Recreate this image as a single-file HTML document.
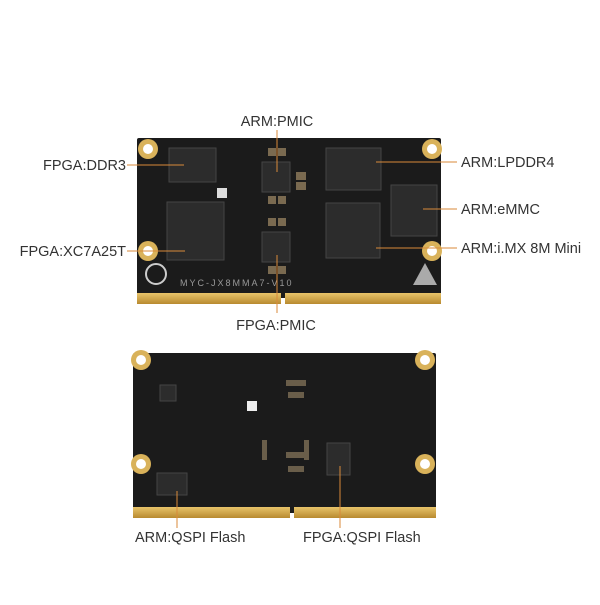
<!DOCTYPE html>
<html><head><style>
body{margin:0;background:#fff;}
svg text{font-family:"Liberation Sans",sans-serif;font-size:14.5px;fill:#333;}
</style></head><body>
<svg width="600" height="600" xmlns="http://www.w3.org/2000/svg">
<defs>
<linearGradient id="g" x1="0" y1="0" x2="0" y2="1"><stop offset="0" stop-color="#e8c46a"/><stop offset="1" stop-color="#b88a30"/></linearGradient>
</defs>
<rect x="137" y="138" width="304" height="160" fill="#1b1b1b" rx="2"/>
<rect x="137" y="293" width="144" height="11" fill="url(#g)"/>
<rect x="285" y="293" width="156" height="11" fill="url(#g)"/>
<g fill="#d9b25a"><circle cx="148" cy="149" r="10"/><circle cx="432" cy="149" r="10"/><circle cx="148" cy="251" r="10"/><circle cx="432" cy="251" r="10"/></g>
<g fill="#fff"><circle cx="148" cy="149" r="5"/><circle cx="432" cy="149" r="5"/><circle cx="148" cy="251" r="5"/><circle cx="432" cy="251" r="5"/></g>
<g fill="#2c2c2c" stroke="#444">
<rect x="169" y="148" width="47" height="34"/>
<rect x="167" y="202" width="57" height="58"/>
<rect x="262" y="162" width="28" height="30"/>
<rect x="262" y="232" width="28" height="30"/>
<rect x="326" y="148" width="55" height="42"/>
<rect x="326" y="203" width="54" height="55"/>
<rect x="391" y="185" width="46" height="51"/>
</g>
<g fill="#7a6a50"><rect x="268" y="148" width="8" height="8"/><rect x="278" y="148" width="8" height="8"/><rect x="268" y="196" width="8" height="8"/><rect x="278" y="196" width="8" height="8"/><rect x="268" y="218" width="8" height="8"/><rect x="278" y="218" width="8" height="8"/><rect x="268" y="266" width="8" height="8"/><rect x="278" y="266" width="8" height="8"/><rect x="296" y="172" width="10" height="8"/><rect x="296" y="182" width="10" height="8"/></g>
<rect x="217" y="188" width="10" height="10" fill="#ddd"/>
<circle cx="156" cy="274" r="10" fill="none" stroke="#ccc" stroke-width="2"/>
<text x="180" y="286" style="font-size:9px;fill:#999;letter-spacing:2px">MYC-JX8MMA7-V10</text>
<polygon points="413,285 425,263 437,285" fill="#aaa"/>
<rect x="133" y="353" width="303" height="160" fill="#1b1b1b" rx="2"/>
<rect x="133" y="507" width="157" height="11" fill="url(#g)"/>
<rect x="294" y="507" width="142" height="11" fill="url(#g)"/>
<g fill="#d9b25a"><circle cx="141" cy="360" r="10"/><circle cx="425" cy="360" r="10"/><circle cx="141" cy="464" r="10"/><circle cx="425" cy="464" r="10"/></g>
<g fill="#fff"><circle cx="141" cy="360" r="5"/><circle cx="425" cy="360" r="5"/><circle cx="141" cy="464" r="5"/><circle cx="425" cy="464" r="5"/></g>
<rect x="247" y="401" width="10" height="10" fill="#eee"/>
<g fill="#2c2c2c" stroke="#444"><rect x="157" y="473" width="30" height="22"/><rect x="327" y="443" width="23" height="32"/><rect x="160" y="385" width="16" height="16"/></g>
<g fill="#6a5e4a"><rect x="286" y="380" width="20" height="6"/><rect x="288" y="392" width="16" height="6"/><rect x="286" y="452" width="20" height="6"/><rect x="288" y="466" width="16" height="6"/><rect x="262" y="440" width="5" height="20"/><rect x="304" y="440" width="5" height="20"/></g>
<g stroke="#d98a3a" stroke-width="1" fill="none">
<line x1="277" y1="130" x2="277" y2="172"/>
<line x1="277" y1="255" x2="277" y2="313"/>
<line x1="127" y1="165" x2="184" y2="165"/>
<line x1="127" y1="251" x2="185" y2="251"/>
<line x1="376" y1="162" x2="457" y2="162"/>
<line x1="423" y1="209" x2="457" y2="209"/>
<line x1="376" y1="248" x2="457" y2="248"/>
<line x1="177" y1="491" x2="177" y2="528"/>
<line x1="340" y1="466" x2="340" y2="528"/>
</g>
<text x="277" y="126" text-anchor="middle">ARM:PMIC</text>
<text x="276" y="330" text-anchor="middle">FPGA:PMIC</text>
<text x="126" y="170" text-anchor="end">FPGA:DDR3</text>
<text x="126" y="256" text-anchor="end">FPGA:XC7A25T</text>
<text x="461" y="167">ARM:LPDDR4</text>
<text x="461" y="214">ARM:eMMC</text>
<text x="461" y="253">ARM:i.MX 8M Mini</text>
<text x="135" y="542">ARM:QSPI Flash</text>
<text x="303" y="542">FPGA:QSPI Flash</text>
</svg>
</body></html>
